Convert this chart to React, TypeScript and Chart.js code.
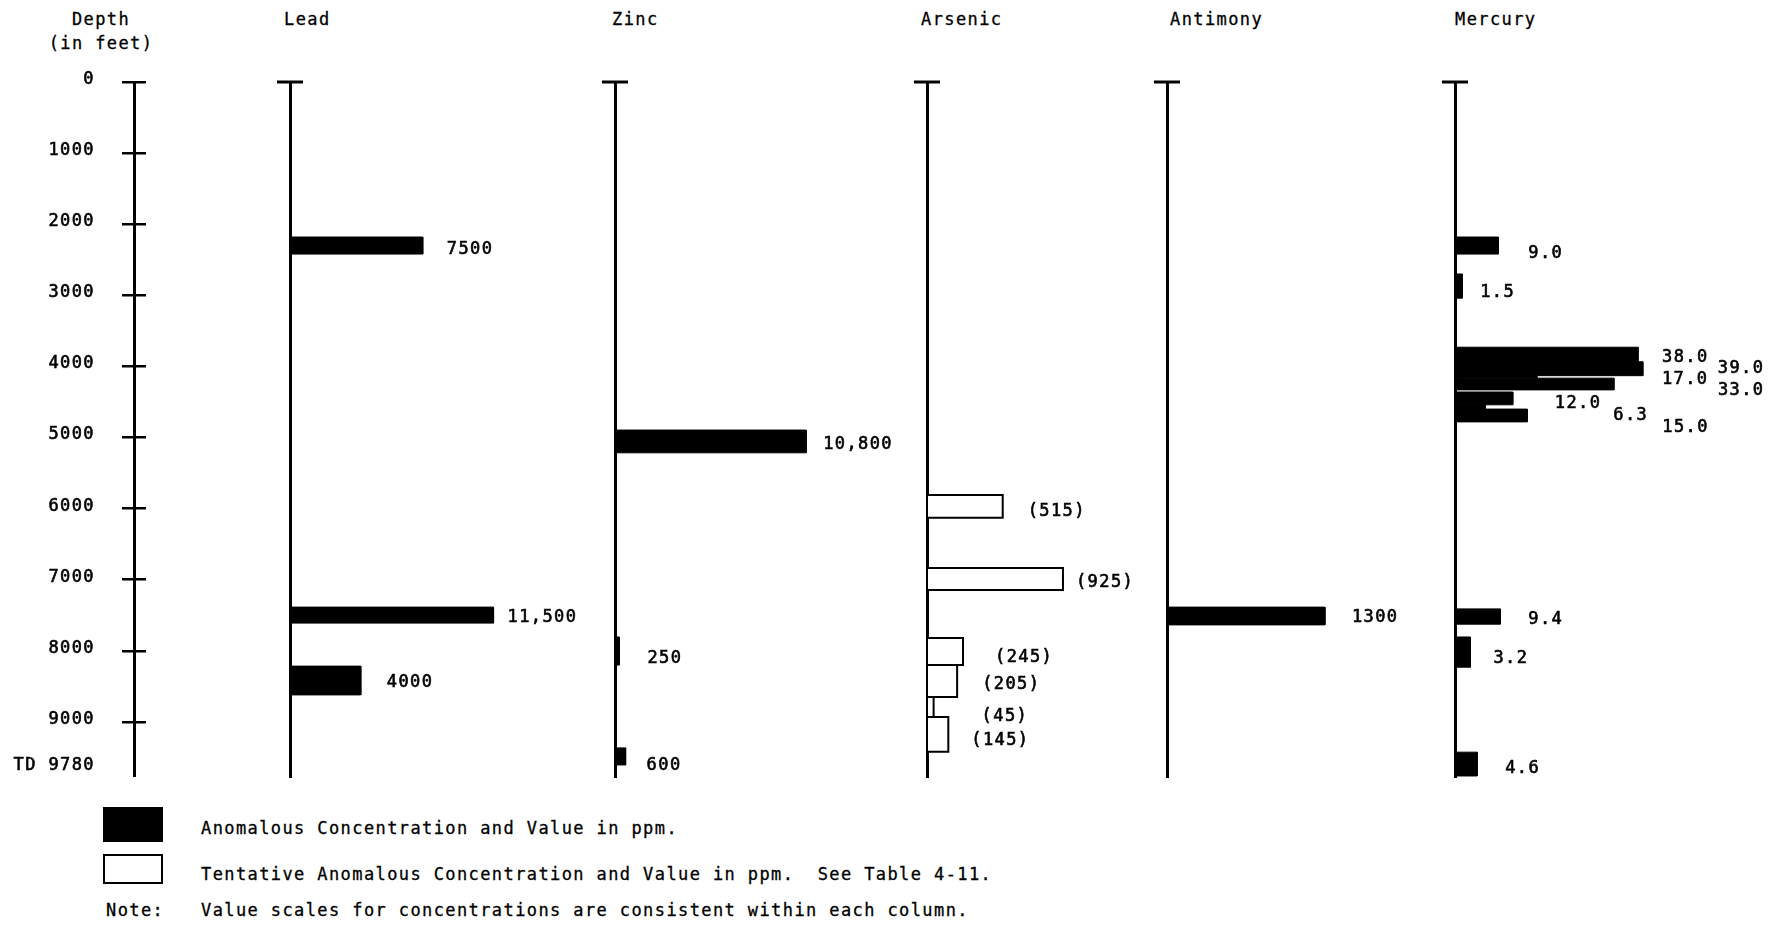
import React, { useEffect, useRef } from 'react';
import { Chart, registerables } from 'chart.js';

Chart.register(...registerables);

const FONT = '"DejaVu Sans Mono", "Liberation Mono", monospace';
const FONT_SIZE = 17;
const SPACING = '1.4px';
const TEXT_STROKE = 0.6;

// ---- Depth axis ----
const DEPTH_MAX = 9780;
const depthTicks = [0, 1000, 2000, 3000, 4000, 5000, 6000, 7000, 8000, 9000, 9780];
const depthTickLabels = ['0', '1000', '2000', '3000', '4000', '5000', '6000', '7000', '8000', '9000', 'TD 9780'];

// ---- Lead (ppm) ----
const leadValues = [7500, 11500, 4000];
const leadTop = [2180, 7385, 8215];
const leadBottom = [2420, 7610, 8620];

// ---- Zinc (ppm) ----
const zincValues = [10800, 250, 600];
const zincTop = [4895, 7805, 9365];
const zincBottom = [5215, 8200, 9605];

// ---- Arsenic (ppm, tentative) ----
const arsenicValues = [515, 925, 245, 205, 45, 145];
const arsenicTop = [5810, 6835, 7820, 8200, 8650, 8930];
const arsenicBottom = [6130, 7145, 8200, 8650, 8930, 9420];

// ---- Antimony (ppm) ----
const antimonyValues = [1300];
const antimonyTop = [7385];
const antimonyBottom = [7635];

// ---- Mercury (ppm) ----
const mercuryValues = [9.0, 1.5, 38.0, 39.0, 17.0, 33.0, 12.0, 6.3, 15.0, 9.4, 3.2, 4.6];
const mercuryTop = [2180, 2700, 3730, 3935, 4130, 4165, 4360, 4540, 4600, 7410, 7805, 9425];
const mercuryBottom = [2420, 3040, 3935, 4130, 4165, 4330, 4540, 4600, 4780, 7625, 8230, 9760];

// ---- Legend texts ----
const legendSolid = 'Anomalous Concentration and Value in ppm.';
const legendOpen = 'Tentative Anomalous Concentration and Value in ppm.  See Table 4-11.';
const noteLabel = 'Note:';
const noteText = 'Value scales for concentrations are consistent within each column.';

// ---- Layout ----
const TOP = 62;
const CANVAS_H = 740;
const PAD_TOP = 20;
const PAD_BOTTOM = 24.6;
const PAD_LEFT = 20;
const LABEL_SHIFT = 3;

const fmtPpm = (v: number) => (v >= 10000 ? v.toLocaleString('en-US') : String(v));
const fmtParen = (v: number) => `(${v})`;
const fmtFixed = (v: number) => v.toFixed(1);

type Col = {
  name: string;
  headerX: number;
  axisX: number;
  xMax: number;
  area: number;
  padRight: number;
  open: boolean;
  values: number[];
  top: number[];
  bottom: number[];
  fmt: (v: number) => string;
  dx: number[];
  dy: number[];
};

const columns: Col[] = [
  { name: 'Lead', headerX: 284, axisX: 290, xMax: 20000, area: 354, padRight: 140, open: false,
    values: leadValues, top: leadTop, bottom: leadBottom, fmt: fmtPpm, dx: [24, 14, 26], dy: [1, -1, -1] },
  { name: 'Zinc', headerX: 612, axisX: 615, xMax: 20000, area: 354, padRight: 130, open: false,
    values: zincValues, top: zincTop, bottom: zincBottom, fmt: fmtPpm, dx: [17, 28, 21], dy: [0, 5, 6] },
  { name: 'Arsenic', headerX: 921, axisX: 927, xMax: 2000, area: 294, padRight: 120, open: true,
    values: arsenicValues, top: arsenicTop, bottom: arsenicBottom, fmt: fmtParen,
    dx: [25, 13, 32, 25, 48, 23], dy: [2, 1, 3.5, 1, 7, 3.5] },
  { name: 'Antimony', headerX: 1170, axisX: 1167, xMax: 2000, area: 243, padRight: 120, open: false,
    values: antimonyValues, top: antimonyTop, bottom: antimonyBottom, fmt: String, dx: [27], dy: [-1] },
  { name: 'Mercury', headerX: 1455, axisX: 1455, xMax: 60, area: 289, padRight: 36, open: false,
    values: mercuryValues, top: mercuryTop, bottom: mercuryBottom, fmt: fmtFixed,
    dx: [30, 18, 24, 75, 125, 104, 42, 128, 135, 28, 23, 28], dy: [5, 3.5, 0, -3, 0, 4, 2, 6, 9, 0, 3, 2] },
];

const spacingPlugin = {
  id: 'spacing',
  beforeDraw(chart: any) {
    (chart.ctx as any).letterSpacing = SPACING;
  },
};

function DepthAxis() {
  const ref = useRef<HTMLCanvasElement>(null);
  useEffect(() => {
    const chart = new Chart(ref.current as HTMLCanvasElement, {
      type: 'line',
      data: { datasets: [] },
      options: {
        responsive: false,
        animation: false,
        events: [],
        layout: { padding: { top: PAD_TOP, bottom: PAD_BOTTOM, left: 0, right: 14 } },
        plugins: { legend: { display: false }, tooltip: { enabled: false } },
        scales: {
          x: {
            type: 'linear', min: -1, max: 1, position: 'bottom',
            ticks: { display: false },
            border: { display: false },
            grid: { color: '#000', lineWidth: 3, drawTicks: false },
            afterBuildTicks: (s: any) => { s.ticks = [{ value: 0 }]; },
            afterFit: (s: any) => { s.height = 0; s.paddingLeft = 0; s.paddingRight = 0; },
          },
          y: {
            type: 'linear', reverse: true, min: 0, max: DEPTH_MAX,
            border: { display: false },
            grid: {
              color: (c: any) => (c.tick && c.tick.value === DEPTH_MAX ? 'rgba(0,0,0,0)' : '#000'),
              lineWidth: 2.5,
              drawTicks: false,
            },
            ticks: {
              autoSkip: false, padding: 27, color: '#000', labelOffset: -2.5,
              textStrokeColor: '#000', textStrokeWidth: TEXT_STROKE,
              font: { family: FONT, size: FONT_SIZE, lineHeight: 1.15 },
              callback: (v: any, i: number) => (v === DEPTH_MAX ? [depthTickLabels[i], ''] : depthTickLabels[i]),
            },
            afterBuildTicks: (s: any) => { s.ticks = depthTicks.map((v) => ({ value: v })); },
            afterFit: (s: any) => { s.width = 122; s.paddingTop = 0; s.paddingBottom = 0; },
          },
        },
      } as any,
      plugins: [spacingPlugin],
    });
    return () => chart.destroy();
  }, []);
  return (
    <canvas ref={ref} width={160} height={CANVAS_H}
      style={{ position: 'absolute', left: 0, top: TOP, width: 160, height: CANVAS_H }} />
  );
}

function ColumnChart({ col }: { col: Col }) {
  const ref = useRef<HTMLCanvasElement>(null);
  const width = PAD_LEFT + col.area + col.padRight;
  useEffect(() => {
    const datasets = col.values.map((v, i) => ({
      data: [
        { x: 0, y: col.top[i] },
        { x: v, y: col.top[i] },
        { x: v, y: col.bottom[i] },
        { x: 0, y: col.bottom[i] },
        { x: 0, y: col.top[i] },
      ],
      fill: 'shape',
      backgroundColor: col.open ? '#fff' : '#000',
      borderColor: '#000',
      borderWidth: col.open ? 2 : 1,
      borderJoinStyle: 'miter',
      pointRadius: 0,
      tension: 0,
      clip: false,
    }));

    const capPlugin = {
      id: 'cap',
      afterDraw(chart: any) {
        const { ctx } = chart;
        const xs = chart.scales.x;
        const ys = chart.scales.y;
        const x0 = xs.getPixelForValue(0);
        const y0 = ys.getPixelForValue(0);
        ctx.save();
        ctx.strokeStyle = '#000';
        ctx.lineWidth = 3;
        ctx.beginPath();
        ctx.moveTo(x0 - 13, y0);
        ctx.lineTo(x0 + 13, y0);
        ctx.stroke();
        ctx.restore();
      },
    };

    const labelPlugin = {
      id: 'valueLabels',
      afterDatasetsDraw(chart: any) {
        const { ctx } = chart;
        const xs = chart.scales.x;
        const ys = chart.scales.y;
        ctx.save();
        (ctx as any).letterSpacing = SPACING;
        ctx.font = `${FONT_SIZE}px ${FONT}`;
        ctx.fillStyle = '#000';
        ctx.strokeStyle = '#000';
        ctx.lineWidth = TEXT_STROKE;
        ctx.textAlign = 'left';
        ctx.textBaseline = 'middle';
        col.values.forEach((v, i) => {
          const x = xs.getPixelForValue(v) + col.dx[i];
          const y = ys.getPixelForValue((col.top[i] + col.bottom[i]) / 2) + col.dy[i] + LABEL_SHIFT;
          const t = col.fmt(v);
          ctx.strokeText(t, x, y);
          ctx.fillText(t, x, y);
        });
        ctx.restore();
      },
    };

    const chart = new Chart(ref.current as HTMLCanvasElement, {
      type: 'line',
      data: { datasets: datasets as any },
      options: {
        responsive: false,
        animation: false,
        events: [],
        layout: { padding: { top: PAD_TOP, bottom: PAD_BOTTOM, left: PAD_LEFT, right: col.padRight } },
        plugins: { legend: { display: false }, tooltip: { enabled: false } },
        scales: {
          x: { type: 'linear', min: 0, max: col.xMax, display: false },
          y: {
            type: 'linear', reverse: true, min: 0, max: DEPTH_MAX, z: 1,
            ticks: { display: false },
            grid: { display: false, drawTicks: false },
            border: { display: true, color: '#000', width: 3 },
            afterFit: (s: any) => { s.width = 0; s.paddingTop = 0; s.paddingBottom = 0; },
          },
        },
      } as any,
      plugins: [spacingPlugin, capPlugin, labelPlugin],
    });
    return () => chart.destroy();
  }, [col]);
  return (
    <canvas ref={ref} width={width} height={CANVAS_H}
      style={{ position: 'absolute', left: col.axisX - PAD_LEFT, top: TOP, width, height: CANVAS_H }} />
  );
}

const textStyle: React.CSSProperties = {
  position: 'absolute',
  fontFamily: FONT,
  fontSize: FONT_SIZE,
  letterSpacing: SPACING,
  lineHeight: '20px',
  color: '#000',
  whiteSpace: 'pre',
  WebkitTextStroke: `${TEXT_STROKE / 2}px #000`,
};

export default function App() {
  return (
    <div style={{ position: 'absolute', left: 0, top: 0, width: 1780, height: 925, background: '#fff', overflow: 'hidden' }}>
      <div style={{ ...textStyle, left: 30, top: 7, width: 142, textAlign: 'center', lineHeight: '24px' }}>
        {'Depth\n(in feet)'}
      </div>
      {columns.map((c) => (
        <div key={'h' + c.name} style={{ ...textStyle, left: c.headerX, top: 9 }}>{c.name}</div>
      ))}
      <DepthAxis />
      {columns.map((c) => (
        <ColumnChart key={c.name} col={c} />
      ))}
      <div style={{ position: 'absolute', left: 103, top: 807, width: 60, height: 35, background: '#000' }} />
      <div style={{ ...textStyle, left: 201, top: 818 }}>{legendSolid}</div>
      <div style={{ position: 'absolute', left: 103, top: 854, width: 60, height: 30, border: '2px solid #000', boxSizing: 'border-box', background: '#fff' }} />
      <div style={{ ...textStyle, left: 201, top: 864 }}>{legendOpen}</div>
      <div style={{ ...textStyle, left: 106, top: 900 }}>{noteLabel}</div>
      <div style={{ ...textStyle, left: 201, top: 900 }}>{noteText}</div>
    </div>
  );
}
